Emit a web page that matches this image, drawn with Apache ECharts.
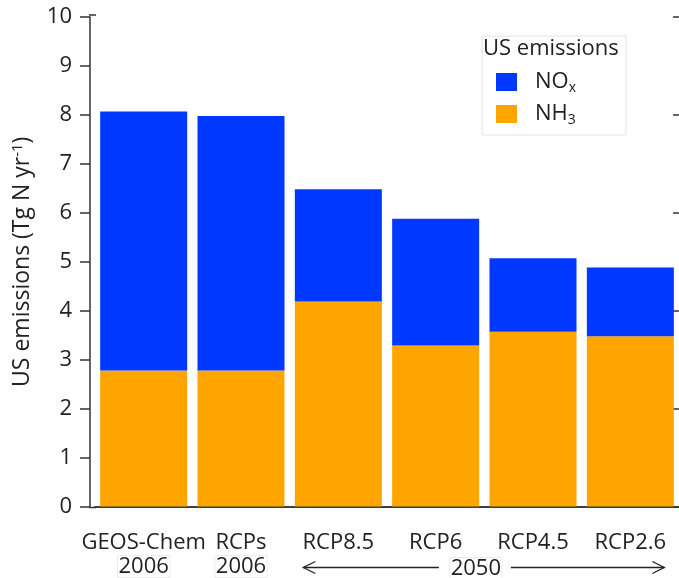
<!DOCTYPE html>
<html>
<head>
<meta charset="utf-8">
<script src="https://cdn.jsdelivr.net/npm/echarts@6/dist/echarts.min.js"></script>
<style>
html,body{margin:0;padding:0;background:#fff;}
#chart{width:679px;height:578px;}
</style>
</head>
<body>
<div id="chart"></div>
<script>
// ---- data ----
const categories = ['GEOS-Chem', 'RCPs', 'RCP8.5', 'RCP6', 'RCP4.5', 'RCP2.6'];
const yearLabels = ['2006', '2006', '', '', '', ''];
const nh3Values = [2.78, 2.78, 4.19, 3.29, 3.57, 3.48];
const noxValues = [5.29, 5.20, 2.29, 2.59, 1.50, 1.40];
const yMin = 0, yMax = 10, yInterval = 1;
const futureYear = '2050';
const legendTitle = 'US emissions';

const FONT = 'Open Sans';
const FS = 22;
const TXT = '#222';
const AX = '#333';

const chart = echarts.init(document.getElementById('chart'), null, {renderer: 'canvas'});

const option = {
  animation: false,
  backgroundColor: '#fff',
  textStyle: {fontFamily: FONT, color: TXT},
  grid: {left: 95, right: 0, top: 17, bottom: 71, containLabel: false},
  title: {
    text: legendTitle, left: 483, top: 38, padding: 0, z: 10,
    textStyle: {fontFamily: FONT, fontSize: FS, fontWeight: 'normal', color: TXT}
  },
  legend: {
    orient: 'vertical', left: 482, top: 36,
    padding: [35, 50, 8, 14], itemGap: 8,
    itemWidth: 21, itemHeight: 18,
    backgroundColor: '#fff', borderColor: '#e4e4e4', borderWidth: 1,
    data: ['NOx', 'NH3'],
    icon: 'rect',
    formatter: function (name) {
      return name === 'NOx' ? '{b|NO}{s|x}' : '{b|NH}{s|3}';
    },
    textStyle: {
      fontFamily: FONT, color: TXT,
      rich: {
        b: {fontSize: FS, fontFamily: FONT, color: TXT, padding: [0, 0, 0, 13]},
        s: {fontSize: 14, fontFamily: FONT, color: TXT, verticalAlign: 'bottom', padding: [12, 0, 0, 0]}
      }
    }
  },
  xAxis: [
    {
      type: 'category', data: categories, position: 'bottom', offset: 1,
      axisLine: {lineStyle: {color: AX, width: 1.5}},
      axisTick: {alignWithLabel: true, length: 12, lineStyle: {color: AX, width: 1.5}},
      axisLabel: {
        interval: 0, margin: 23, color: TXT, fontFamily: FONT, fontSize: FS,
        formatter: function (v, i) {
          return yearLabels[i] ? '{a|' + v + '}\n{y|' + yearLabels[i] + '}' : '{a|' + v + '}';
        },
        rich: {
          a: {fontSize: FS, fontFamily: FONT, color: TXT, lineHeight: 24},
          y: {fontSize: FS, fontFamily: FONT, color: TXT, lineHeight: 24, borderColor: '#ececec', borderWidth: 1, padding: [0, 1]}
        }
      }
    },
    {
      type: 'category', data: categories, position: 'top', offset: 2,
      axisLine: {lineStyle: {color: AX, width: 1.5}},
      axisTick: {alignWithLabel: true, inside: true, length: 10, lineStyle: {color: AX, width: 1.5}},
      axisLabel: {show: false}
    }
  ],
  yAxis: [
    {
      type: 'value', min: yMin, max: yMax, interval: yInterval, position: 'left', offset: 5,
      splitLine: {show: false},
      axisLine: {show: true, lineStyle: {color: AX, width: 1.5}},
      axisTick: {show: true, length: 10, lineStyle: {color: AX, width: 1.5}},
      axisLabel: {margin: 18, color: TXT, fontFamily: FONT, fontSize: FS},
      name: 'US emissions (Tg N yr{sup|-1})',
      nameLocation: 'middle', nameGap: 55, nameRotate: 90,
      nameTextStyle: {
        fontFamily: FONT, fontSize: 23, color: TXT,
        rich: {sup: {fontSize: 15, fontFamily: FONT, color: TXT, verticalAlign: 'top', padding: [0, 0, 10, 0]}}
      }
    },
    {
      type: 'value', min: yMin, max: yMax, interval: 2, position: 'right',
      splitLine: {show: false},
      axisLine: {show: false},
      axisTick: {show: true, inside: true, length: 6, lineStyle: {color: AX, width: 1.5}},
      axisLabel: {show: false}
    }
  ],
  series: [
    {
      name: 'NH3', type: 'bar', stack: 'total', data: nh3Values, barWidth: 87,
      itemStyle: {color: '#ffa500'}
    },
    {
      name: 'NOx', type: 'bar', stack: 'total', data: noxValues, barWidth: 87,
      itemStyle: {color: '#0038ff'}
    }
  ]
};
chart.setOption(option);

// annotation: "2050" span with arrows under RCP8.5 .. RCP2.6
const xa = chart.convertToPixel({xAxisIndex: 0}, categories[2]);
const xb = chart.convertToPixel({xAxisIndex: 0}, categories[5]);
const y0 = chart.convertToPixel({yAxisIndex: 0}, yMin);
const left = xa - 35, right = xb + 34;
const mid = (left + right) / 2 - 8;
const ay = y0 + 61;
const lineStyle = {stroke: '#222', lineWidth: 1.3, fill: null};
chart.setOption({
  graphic: [
    {type: 'line', shape: {x1: 89, y1: 15, x2: 96, y2: 15}, style: {stroke: AX, lineWidth: 1.5}},
    {type: 'line', shape: {x1: 89, y1: y0 + 1, x2: 96, y2: y0 + 1}, style: {stroke: AX, lineWidth: 1.5}},
    {type: 'line', shape: {x1: left, y1: ay, x2: mid - 37, y2: ay}, style: lineStyle},
    {type: 'polyline', shape: {points: [[left + 12, ay - 6], [left, ay], [left + 12, ay + 6]]}, style: lineStyle},
    {type: 'line', shape: {x1: mid + 35, y1: ay, x2: right, y2: ay}, style: lineStyle},
    {type: 'polyline', shape: {points: [[right - 12, ay - 6], [right, ay], [right - 12, ay + 6]]}, style: lineStyle},
    {type: 'text', x: mid, y: ay + 1, style: {text: futureYear, fontFamily: FONT, fontSize: FS, fill: TXT, align: 'center', verticalAlign: 'middle',
      borderColor: '#ececec', borderWidth: 1, padding: [0, 1]}}
  ]
});
</script>
</body>
</html>
